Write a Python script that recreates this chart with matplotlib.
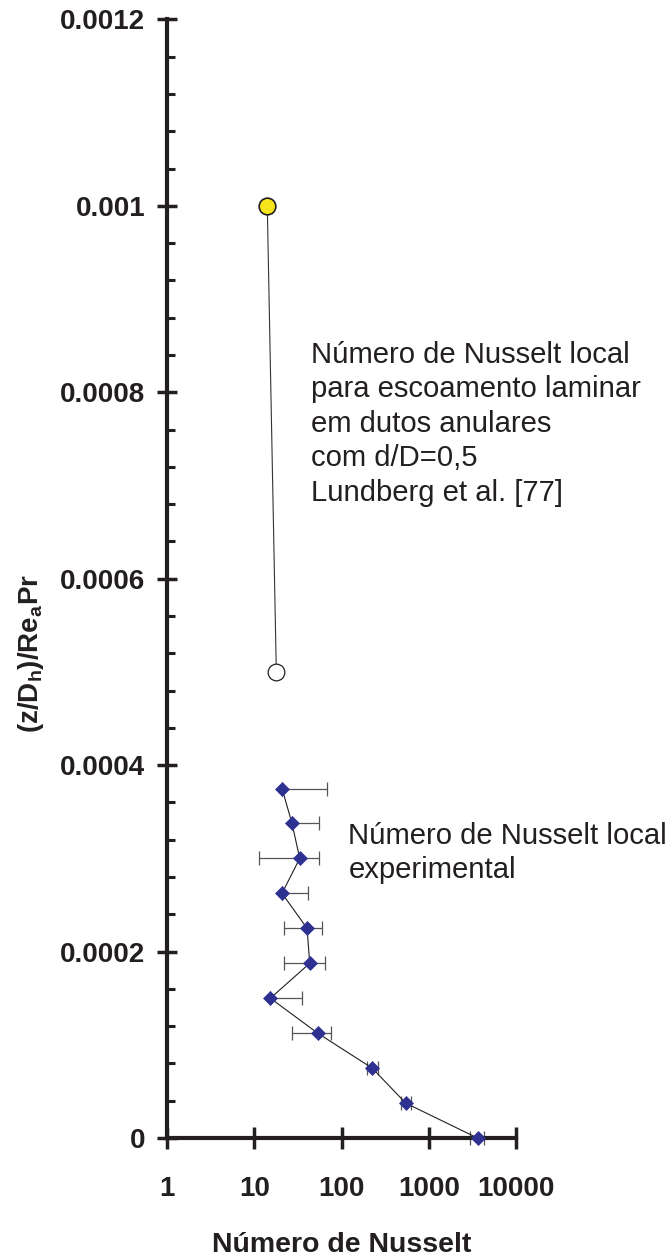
import numpy as np
import matplotlib
matplotlib.use("Agg")
import matplotlib.pyplot as plt
from matplotlib.ticker import FixedLocator, FixedFormatter, LogLocator, MultipleLocator, NullFormatter

plt.rcParams['font.family'] = ['Liberation Sans', 'DejaVu Sans']
plt.rcParams['mathtext.fontset'] = 'custom'
plt.rcParams['mathtext.rm'] = 'Liberation Sans'
plt.rcParams['mathtext.bf'] = 'Liberation Sans:bold'

# experimental local Nusselt number (diamonds), bottom to top
exp_pos = [0, 0.0000375, 0.000075, 0.0001125, 0.00015, 0.0001875, 0.000225,
           0.0002625, 0.0003, 0.0003375, 0.000375]
exp_nu = [3630, 544, 225, 53.4, 15.3, 43.2, 40.3, 20.8, 33.2, 27.1, 20.8]
exp_lo = [3000, 476, 194, 27.1, 15.3, 22.1, 22.1, 20.8, 11.3, 27.1, 20.8]   # left end of error bar
exp_hi = [4300, 621, 259, 76.1, 35.0, 65.5, 59.4, 41.0, 55.8, 55.8, 68.5]   # right end of error bar

# Lundberg et al. laminar solution (circles)
lund_pos = [0.001, 0.0005]
lund_nu = [14.1, 17.9]

y_ticks = [0, 0.0002, 0.0004, 0.0006, 0.0008, 0.001, 0.0012]
y_labels = ['0', '0.0002', '0.0004', '0.0006', '0.0008', '0.001', '0.0012']
x_ticks = [1, 10, 100, 1000, 10000]
x_labels = ['1', '10', '100', '1000', '10000']

ink = '#231F20'
navy = '#2E3192'

fig = plt.figure(figsize=(6.67, 12.56), dpi=100)
ax = fig.add_axes([0.2504, 0.0939, 0.7736 - 0.2504, 0.9845 - 0.0939])

ax.plot(lund_nu, lund_pos, '-', color='#333333', lw=0.8, zorder=2)
ax.plot(lund_nu[0], lund_pos[0], 'o', ms=12, mfc='#F7E51B', mec=ink, mew=1.2, zorder=4)
ax.plot(lund_nu[1], lund_pos[1], 'o', ms=12, mfc='white', mec=ink, mew=0.9, zorder=4)

nu = np.array(exp_nu)
xerr = [nu - np.array(exp_lo), np.array(exp_hi) - nu]
ax.errorbar(exp_nu, exp_pos, xerr=xerr, fmt='none', ecolor='#555555', elinewidth=0.9,
            capsize=4.7, capthick=0.9, zorder=2, clip_on=False)
ax.plot(exp_nu, exp_pos, '-', color=ink, lw=0.8, zorder=3, clip_on=False)
ax.plot(exp_nu, exp_pos, 'D', ms=7.5, mfc=navy, mec=navy, mew=0.5, zorder=5, clip_on=False)

ax.set_xscale('log')
ax.set_xlim(1, 10000)
ax.set_ylim(0, 0.0012)

ax.xaxis.set_major_locator(FixedLocator(x_ticks))
ax.xaxis.set_major_formatter(FixedFormatter(x_labels))
ax.xaxis.set_minor_locator(LogLocator(base=10, subs=np.arange(2, 10)))
ax.xaxis.set_minor_formatter(NullFormatter())
ax.yaxis.set_major_locator(FixedLocator(y_ticks))
ax.yaxis.set_major_formatter(FixedFormatter(y_labels))
ax.yaxis.set_minor_locator(MultipleLocator(0.00004))

for s in ['top', 'right']:
    ax.spines[s].set_visible(False)
for s in ['left', 'bottom']:
    ax.spines[s].set_linewidth(3)
    ax.spines[s].set_color(ink)

ax.tick_params(axis='y', which='major', direction='inout', length=15, width=2.5, pad=8,
               labelsize=20, color=ink)
ax.tick_params(axis='y', which='minor', direction='in', length=5.5, width=2.2, color=ink)
ax.tick_params(axis='x', which='major', direction='inout', length=16, width=2.5, pad=19,
               labelsize=20, color=ink)
ax.tick_params(axis='x', which='minor', direction='in', length=5.5, width=2.2, color=ink)
for lab in ax.get_xticklabels() + ax.get_yticklabels():
    lab.set_fontweight('bold')
    lab.set_color(ink)

ax.set_xlabel('Número de Nusselt', fontsize=20.5, fontweight='bold', color=ink)
ax.xaxis.set_label_coords(0.5, -0.1019)
ax.xaxis.label.set_va('baseline')
ax.set_ylabel(r'(z/D$_\mathbf{h}$)/Re$_\mathbf{a}$Pr', fontsize=20, fontweight='bold', color=ink)
ax.yaxis.set_label_coords((31 - 167) / 349.0, (1138 - 653) / 1118.5)
ax.yaxis.label.set_va('center')

# va='baseline' on multi-line text anchors the last line's baseline
ax.text(45.2, 0.0006835, 'Número de Nusselt local\npara escoamento laminar\nem dutos anulares\n'
        'com d/D=0,5\nLundberg et al. [77]', fontsize=21.1, color=ink, va='baseline',
        ha='left', linespacing=1.30)
ax.text(120, 0.000279, 'Número de Nusselt local\nexperimental', fontsize=21.1, color=ink,
        va='baseline', ha='left', linespacing=1.25)

fig.savefig('out.png', dpi=100)
